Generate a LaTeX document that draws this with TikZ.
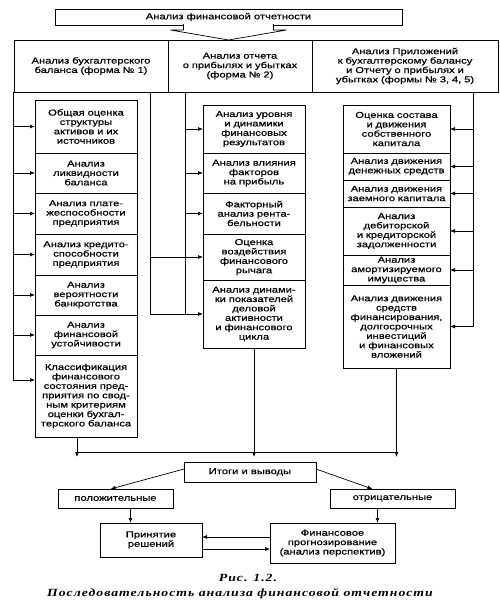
\documentclass[tikz,border=0pt]{standalone}
\usepackage{fontspec}
\newfontfamily\boxfont[FakeStretch=1.3,FakeBold=0.6]{Liberation Sans}
\newfontfamily\capfont[FakeStretch=1.25,LetterSpace=9]{Liberation Serif}
\usepackage{tikz}
\usetikzlibrary{positioning}
\usetikzlibrary{arrows.meta, calc}

\tikzset{
 box/.style={draw=black, line width=0.8pt, outer sep=0pt, inner xsep=2pt, inner ysep=0.5pt, align=center, font=\boxfont\fontsize{8.6pt}{9.4pt}\selectfont},
 lbox/.style={box, text width=98pt},
 rbox/.style={box, text width=103pt},
 bus/.style={draw=black, line width=0.7pt},
 arr/.style={bus, -{Latex[length=5pt,width=4pt]}},
 captext/.style={font=\capfont\bfseries\itshape\fontsize{11pt}{13pt}\selectfont, inner sep=0pt}
}

\begin{document}
\begin{tikzpicture}[x=1pt,y=-1pt]
\useasboundingbox (0,0) rectangle (500,608);

\node[box, minimum width=347pt, minimum height=16pt] (T) at (228.5,17) {Анализ финансовой отчетности};

\node[box, text width=150pt, minimum height=52pt, anchor=north west] (H1) at (14,40) {Анализ бухгалтерского\\баланса (форма № 1)};
\node[box, text width=140pt, minimum height=52pt, right=0pt of H1] (H2) {Анализ отчета\\о прибылях и убытках\\(форма № 2)};
\node[box, text width=182pt, minimum height=52pt, right=0pt of H2] (H3) {Анализ Приложений\\к бухгалтерскому балансу\\и Отчету о прибылях и\\убытках (формы № 3, 4, 5)};

\filldraw[bus, fill=white] ($(T.south)+(-45,-1)$) -- ($(T.south)+(-45,5)$) -- ($(T.south)+(-58,5)$) -- (T.south |- H1.north) -- ($(T.south)+(58,5)$) -- ($(T.south)+(45,5)$) -- ($(T.south)+(45,-1)$);

\node[lbox, minimum height=53pt, anchor=north west] (L1) at (35,100) {Общая оценка\\структуры\\активов и их\\источников};
\node[lbox, minimum height=40pt, below=0pt of L1] (L2) {Анализ\\ликвидности\\баланса};
\node[lbox, minimum height=41pt, below=0pt of L2] (L3) {Анализ плате-\\жеспособности\\предприятия};
\node[lbox, minimum height=41pt, below=0pt of L3] (L4) {Анализ кредито-\\способности\\предприятия};
\node[lbox, minimum height=40pt, below=0pt of L4] (L5) {Анализ\\вероятности\\банкротства};
\node[lbox, minimum height=40pt, below=0pt of L5] (L6) {Анализ\\финансовой\\устойчивости};
\node[lbox, minimum height=82pt, below=0pt of L6] (L7) {Классификация\\финансового\\состояния пред-\\приятия по свод-\\ным критериям\\оценки бухгал-\\терского баланса};

\node[lbox, minimum height=48pt, anchor=north west] (M1) at (203,105) {Анализ уровня\\и динамики\\финансовых\\результатов};
\node[lbox, minimum height=40pt, below=0pt of M1] (M2) {Анализ влияния\\факторов\\на прибыль};
\node[lbox, minimum height=41pt, below=0pt of M2] (M3) {Факторный\\анализ рента-\\бельности};
\node[lbox, minimum height=46pt, below=0pt of M3] (M4) {Оценка\\воздействия\\финансового\\рычага};
\node[lbox, minimum height=68pt, below=0pt of M4] (M5) {Анализ динами-\\ки показателей\\деловой\\активности\\и финансового\\цикла};

\node[rbox, minimum height=48pt, anchor=north west] (R1) at (343,105) {Оценка состава\\и движения\\собственного\\капитала};
\node[rbox, minimum height=27pt, below=0pt of R1] (R2) {Анализ движения\\денежных средств};
\node[rbox, minimum height=27pt, below=0pt of R2] (R3) {Анализ движения\\заемного капитала};
\node[rbox, minimum height=48pt, below=0pt of R3] (R4) {Анализ\\дебиторской\\и кредиторской\\задолженности};
\node[rbox, minimum height=30pt, below=0pt of R4] (R5) {Анализ\\амортизируемого\\имущества};
\node[rbox, minimum height=83pt, below=0pt of R5] (R6) {Анализ движения\\средств\\финансирования,\\долгосрочных\\инвестиций\\и финансовых\\вложений};

\coordinate (busL) at (13,92);
\draw[bus] (busL) -- ([yshift=16pt]L7.west -| busL);
\draw[arr] (L1.west -| busL) -- (L1.west);
\draw[arr] (L2.west -| busL) -- (L2.west);
\draw[arr] (L3.west -| busL) -- (L3.west);
\draw[arr] (L4.west -| busL) -- (L4.west);
\draw[arr] (L5.west -| busL) -- (L5.west);
\draw[arr] (L6.west -| busL) -- (L6.west);
\draw[arr] ([yshift=16pt]L7.west -| busL) -- ([yshift=16pt]L7.west);

\coordinate (busA) at (150,92);
\coordinate (busM) at (185,92);
\draw[bus] (busM) -- (M5.west -| busM);
\draw[bus] (busA) -- (M5.west -| busA) -- (M5.west -| busM);
\draw[bus] (M4.west -| busA) -- (M4.west -| busM);
\draw[arr] (M1.west -| busM) -- (M1.west);
\draw[arr] (M2.west -| busM) -- (M2.west);
\draw[arr] (M3.west -| busM) -- (M3.west);
\draw[arr] (M4.west -| busM) -- (M4.west);
\draw[arr] (M5.west -| busM) -- (M5.west);

\coordinate (busR) at (473,92);
\draw[bus] (busR) -- (R6.east -| busR);
\draw[arr] (R1.east -| busR) -- (R1.east);
\draw[arr] (R2.east -| busR) -- (R2.east);
\draw[arr] (R3.east -| busR) -- (R3.east);
\draw[arr] (R4.east -| busR) -- (R4.east);
\draw[arr] (R5.east -| busR) -- (R5.east);
\draw[arr] (R6.east -| busR) -- (R6.east);

\coordinate (join) at (0,452);
\coordinate (tips) at (0,457);
\draw[bus] ([xshift=-9pt]L7.south |- join) -- (R6.south |- join);
\draw[arr] ([xshift=-9pt]L7.south) -- ([xshift=-9pt]L7.south |- tips);
\draw[arr] (M5.south) -- (M5.south |- tips);
\draw[arr] (R6.south) -- (R6.south |- tips);

\node[box, minimum width=132pt, minimum height=20pt] (I) at (250,472) {Итоги и выводы};
\node[box, minimum width=115pt, minimum height=19pt] (P) at (115.5,498.5) {положительные};
\node[box, minimum width=125pt, minimum height=19pt] (N) at (392.5,498.5) {отрицательные};
\node[box, minimum width=102pt, minimum height=34pt] (Pr) at (151,540) {Принятие\\решений};
\node[box, minimum width=125pt, minimum height=40pt] (F) at (332.5,543) {Финансовое\\прогнозирование\\(анализ перспектив)};

\draw[arr] ([yshift=3pt]I.west) -- ([xshift=-5pt]P.north);
\draw[arr] ([yshift=3pt]I.east) -- ([xshift=-20pt]N.north);
\draw[arr] ([xshift=15pt]P.south) -- ([xshift=15pt]P.south |- Pr.north);
\draw[arr] ([xshift=-15pt]N.south) -- ([xshift=-15pt]N.south |- F.north);
\draw[arr] ([yshift=6pt]F.west) -- ([yshift=6pt]F.west -| Pr.east);
\draw[arr] ([yshift=-6pt]F.west -| Pr.east) -- ([yshift=-6pt]F.west);

\node[captext] (cap1) at (248,578) {Рис. 1.2.};
\node[captext] (cap2) at (240,594) {Последовательность анализа финансовой отчетности};
\end{tikzpicture}
\end{document}
